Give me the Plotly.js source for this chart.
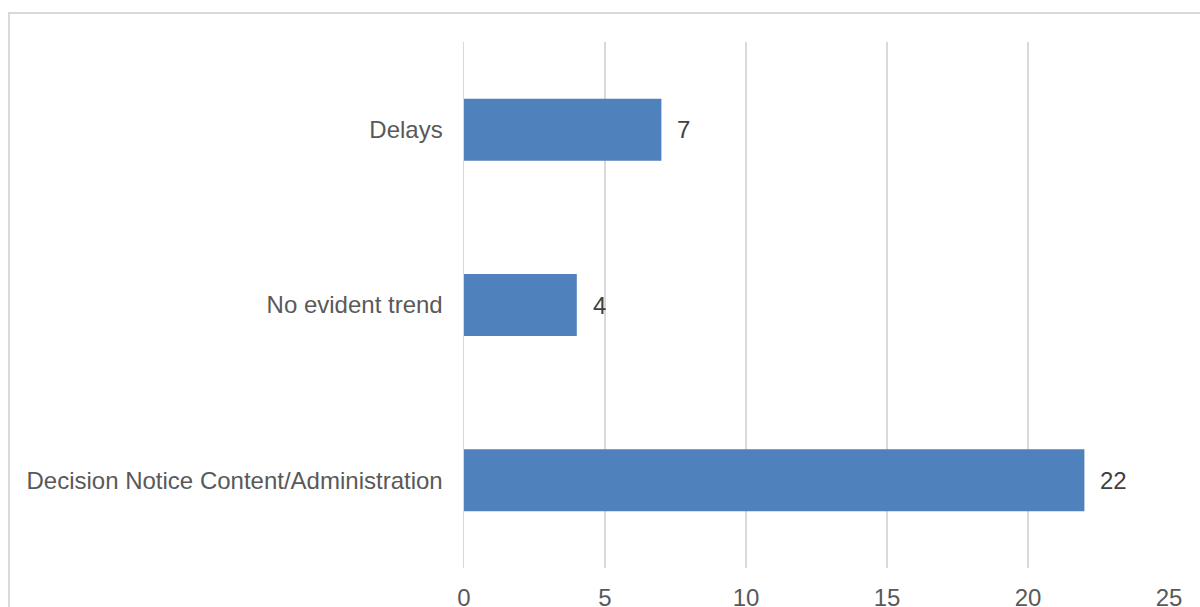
<!DOCTYPE html>
<html>
<head>
<meta charset="utf-8">
<script src="https://cdn.plot.ly/plotly-3.0.1.min.js"></script>
<style>
  html, body { margin: 0; padding: 0; background: #fff; overflow: hidden; }
  #chart { width: 1200px; height: 607px; }
  #frame { position: absolute; left: 8px; top: 12px; width: 1200px; height: 700px;
           border: 2px solid #d9d9d9; box-sizing: border-box; pointer-events: none; }
</style>
</head>
<body>
<div id="chart"></div>
<div id="frame"></div>
<script>
const categories = ["Decision Notice Content/Administration", "No evident trend", "Delays"];
const values = [22, 4, 7];
const xTickValues = [0, 5, 10, 15, 20, 25];
const xTickLabels = ["0", "5", "10", "15", "20", "25"];

const trace = {
  type: "bar",
  orientation: "h",
  x: values,
  y: categories,
  marker: { color: "#4f81bd" },
  width: 0.354,
  hoverinfo: "x+y"
};

const annotations = values.map((v, i) => ({
  x: v, y: categories[i], xref: "x", yref: "y",
  text: String(v), showarrow: false, xanchor: "left", yanchor: "middle",
  xshift: 14, font: { family: "Liberation Sans, Arial, sans-serif", size: 24, color: "#404040" }
}));

const layout = {
  width: 1200, height: 607,
  margin: { l: 464, r: 31, t: 42, b: 39 },
  paper_bgcolor: "#ffffff",
  plot_bgcolor: "#ffffff",
  showlegend: false,
  font: { family: "Liberation Sans, Arial, sans-serif", size: 24, color: "#595959" },
  xaxis: {
    range: [0, 25],
    tickvals: xTickValues,
    ticktext: xTickLabels,
    showgrid: true, gridcolor: "#d9d9d9", gridwidth: 1.5,
    zeroline: false, showline: false,
    ticks: "", ticklabelstandoff: 13,
    tickfont: { size: 24, color: "#595959" },
    fixedrange: true
  },
  yaxis: {
    categoryorder: "array", categoryarray: categories,
    range: [-0.5, 2.5],
    showgrid: false, zeroline: false,
    showline: true, linecolor: "#d9d9d9", linewidth: 1.5,
    ticks: "", ticklabelstandoff: 15,
    tickfont: { size: 24, color: "#595959" },
    fixedrange: true
  },
  annotations: annotations
};

Plotly.newPlot("chart", [trace], layout, { displayModeBar: false, staticPlot: true });
</script>
</body>
</html>
